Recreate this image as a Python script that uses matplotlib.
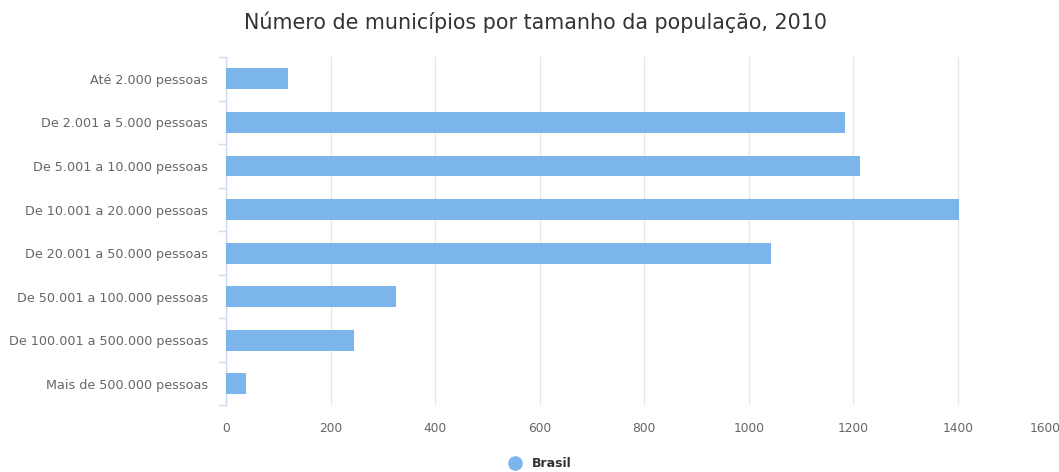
import numpy as np
import matplotlib
matplotlib.use("Agg")
import matplotlib.pyplot as plt
from matplotlib.lines import Line2D
import matplotlib.transforms as mtransforms

plt.rcParams['font.family'] = ['DejaVu Sans']

# data
categories = [
    "Até 2.000 pessoas",
    "De 2.001 a 5.000 pessoas",
    "De 5.001 a 10.000 pessoas",
    "De 10.001 a 20.000 pessoas",
    "De 20.001 a 50.000 pessoas",
    "De 50.001 a 100.000 pessoas",
    "De 100.001 a 500.000 pessoas",
    "Mais de 500.000 pessoas",
]
municipios = [118, 1183, 1212, 1401, 1043, 325, 245, 38]
series_name = "Brasil"
x_ticks = [0, 200, 400, 600, 800, 1000, 1200, 1400, 1600]
title = "Número de municípios por tamanho da população, 2010"

barColor = "#7cb5ec"
textColor = "#666666"

fig = plt.figure(figsize=(10.59, 4.72), dpi=100)
ax = fig.add_axes([0.2134, 0.141, 0.790, 0.738])

ypos = np.arange(len(categories))
ax.barh(ypos, municipios, height=0.48, color=barColor, edgecolor="none", zorder=3)

ax.set_ylim(len(categories) - 0.5, -0.5)
ax.set_xlim(0, 1600)

ax.set_yticks(ypos)
ax.set_yticklabels(categories, fontsize=9.2, color=textColor)
ax.set_yticks(np.arange(len(categories) + 1) - 0.5, minor=True)
ax.tick_params(axis="y", which="major", length=0, pad=13)
ax.tick_params(axis="y", which="minor", length=6, color="#d0dcea", width=1)

ax.set_xticks(x_ticks)
ax.set_xticklabels([str(v) for v in x_ticks], fontsize=8.8, color=textColor)
ax.tick_params(axis="x", length=0, pad=12)
ax.grid(axis="x", color="#e6e6e6", linewidth=1, zorder=0)

# last label is pushed left so it stays inside the figure
lastLabel = ax.get_xticklabels()[-1]
lastLabel.set_transform(lastLabel.get_transform() +
                        mtransforms.ScaledTranslation(-0.17, 0, fig.dpi_scale_trans))

for s in ["top", "right", "bottom"]:
    ax.spines[s].set_visible(False)
ax.spines["left"].set_color("#d0dcea")
ax.spines["left"].set_linewidth(1)

fig.text(0.506, 0.953, title, ha="center", va="center", fontsize=14.9, color="#333333")

handle = Line2D([], [], marker="o", linestyle="none", markersize=9.5,
                markerfacecolor=barColor, markeredgecolor=barColor)
fig.legend([handle], [series_name], loc="center", bbox_to_anchor=(0.507, 0.018),
           frameon=False, handletextpad=0.3, prop={"weight": "bold", "size": 9})
for t in fig.legends[0].get_texts():
    t.set_color("#333333")

fig.savefig("out.png", dpi=100)
